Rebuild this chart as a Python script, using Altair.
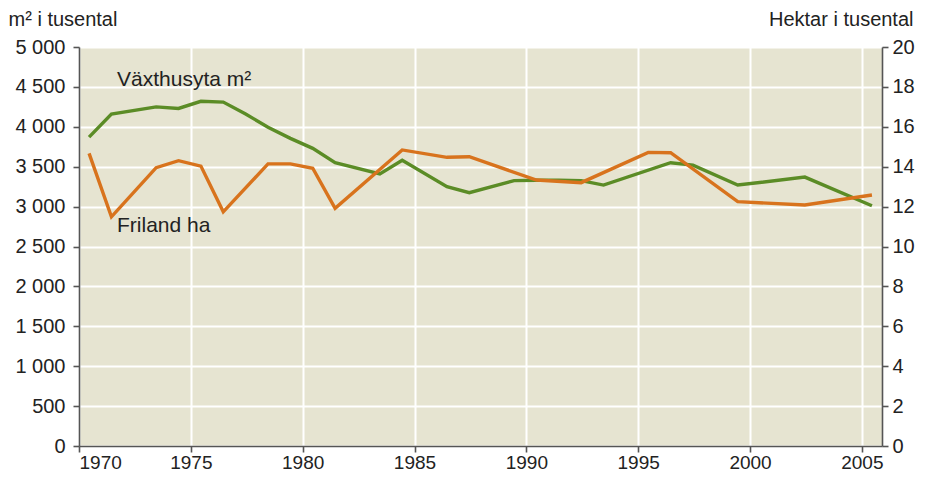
import altair as alt
import pandas as pd

# Växthusyta (m², tusental) – left axis
years_green = [1970, 1971, 1973, 1974, 1975, 1976, 1977, 1978, 1979, 1980, 1981, 1983,
               1984, 1986, 1987, 1989, 1990, 1991, 1992, 1993, 1996, 1997, 1999, 2002, 2005]
green_vals = [3870, 4160, 4250, 4230, 4320, 4310, 4160, 3995, 3855, 3730, 3550, 3410,
              3580, 3250, 3175, 3325, 3330, 3330, 3325, 3270, 3550, 3520, 3270, 3370, 3010]

# Friland (hektar, tusental) – right axis
years_orange = [1970, 1971, 1973, 1974, 1975, 1976, 1978, 1979, 1980, 1981, 1984, 1986,
                1987, 1990, 1992, 1995, 1996, 1999, 2002, 2005]
orange_vals = [14.67, 11.49, 13.95, 14.30, 14.03, 11.74, 14.14, 14.14, 13.92, 11.91, 14.84,
               14.47, 14.50, 13.33, 13.20, 14.72, 14.70, 12.25, 12.08, 12.58]

label_text = ["Växthusyta m²", "Friland ha"]
label_year = [1971.7, 1971.7]
label_val = [4586, 2757]

left_ticks = list(range(0, 5001, 500))
right_ticks = list(range(0, 21, 2))
x_ticks = list(range(1970, 2006, 5))

GREEN = "#5b8c26"
ORANGE = "#d8731d"
BG = "#e6e4d1"
AXIS = "#555555"
FONT = "Liberation Sans"

dg = pd.DataFrame({"year": years_green, "v": green_vals})
do = pd.DataFrame({"year": years_orange, "h": orange_vals})
dl = pd.DataFrame({"year": label_year, "v": label_val, "t": label_text})

xscale = alt.Scale(domain=[1970, 2005.9], nice=False, zero=False)
xaxis = alt.Axis(values=x_ticks, format="d", title=None, grid=True, gridColor="white",
                 gridWidth=2, tickSize=6, labelPadding=1, labelFontSize=19)

green = alt.Chart(dg).transform_calculate(xp="datum.year + 0.45").mark_line(
    color=GREEN, strokeWidth=3.4
).encode(
    x=alt.X("xp:Q", scale=xscale, axis=xaxis),
    y=alt.Y("v:Q", scale=alt.Scale(domain=[0, 5000], nice=False),
            axis=alt.Axis(values=left_ticks, grid=True, gridColor="white", gridWidth=2,
                          labelExpr="replace(format(datum.value, ','), ',', ' ')",
                          title="m² i tusental", titleAngle=0, titleAlign="left",
                          titleBaseline="alphabetic", titleX=-71, titleY=-22,
                          tickSize=6, labelPadding=8)),
)

orange = alt.Chart(do).transform_calculate(xp="datum.year + 0.45").mark_line(
    color=ORANGE, strokeWidth=3.4
).encode(
    x=alt.X("xp:Q", scale=xscale, axis=xaxis),
    y=alt.Y("h:Q", scale=alt.Scale(domain=[0, 20], nice=False),
            axis=alt.Axis(orient="right", values=right_ticks, grid=False,
                          title="Hektar i tusental", titleAngle=0, titleAlign="right",
                          titleBaseline="alphabetic", titleX=31, titleY=-22,
                          tickSize=6, labelPadding=4)),
)

labels = alt.Chart(dl).transform_calculate(xp="datum.year").mark_text(
    align="left", baseline="middle", fontSize=21, font=FONT, color="#222222"
).encode(
    x=alt.X("xp:Q", scale=xscale, axis=xaxis),
    y=alt.Y("v:Q", scale=alt.Scale(domain=[0, 5000], nice=False), axis=None),
    text="t:N",
)

chart = alt.layer(green, orange, labels).resolve_scale(y="independent").properties(
    width=803, height=399,
    padding={"left": 71, "top": 39, "right": 45, "bottom": 31},
    autosize=alt.AutoSizeParams(type="none"),
).configure_view(fill=BG, strokeWidth=0).configure_axis(
    labelFont=FONT, titleFont=FONT, labelFontSize=20, titleFontSize=20,
    titleFontWeight="normal", labelColor="#222222", titleColor="#222222",
    domainColor=AXIS, domainWidth=1.6, tickColor=AXIS, tickWidth=1.6,
)

chart.save("out.html", embed_options={"renderer": "svg", "actions": False})
